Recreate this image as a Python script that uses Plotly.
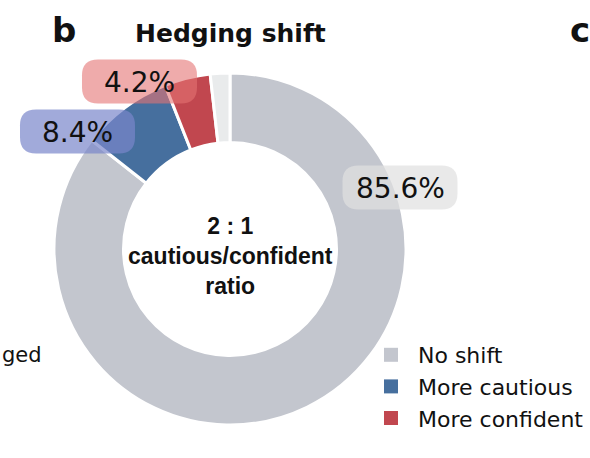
import plotly.graph_objects as go

# ---- data ----
categories = ["No shift", "More cautious", "More confident", "Other"]
shares = [85.6, 8.4, 4.2, 1.8]
legend_items = ["No shift", "More cautious", "More confident"]
ratio_text = "2 : 1"
title_text = "Hedging shift"

# ---- style ----
W, H = 590, 458
slice_colors = ["#c3c6ce", "#466f9e", "#c1474f", "#e9ebec"]
box_colors = ["rgba(224,224,224,0.72)", "rgba(121,134,203,0.7)", "rgba(229,115,115,0.6)"]
# label box centres (pixels) for the first three slices
label_pos = [(400, 187.5), (77.5, 131.5), (139.5, 81.5)]
box_w, box_h, box_r = 115, 44, 16

cx, cy, R = 230, 249, 176


def px(x):
    return x / W


def py(y):
    return 1 - y / H


def rounded_rect(xc, yc, w, h, r):
    x0, x1 = xc - w / 2, xc + w / 2
    y0, y1 = yc - h / 2, yc + h / 2
    pts = [
        ("M", [(x0 + r, y0)]),
        ("L", [(x1 - r, y0)]),
        ("Q", [(x1, y0), (x1, y0 + r)]),
        ("L", [(x1, y1 - r)]),
        ("Q", [(x1, y1), (x1 - r, y1)]),
        ("L", [(x0 + r, y1)]),
        ("Q", [(x0, y1), (x0, y1 - r)]),
        ("L", [(x0, y0 + r)]),
        ("Q", [(x0, y0), (x0 + r, y0)]),
    ]
    s = ""
    for cmd, p in pts:
        s += cmd + " " + " ".join(f"{px(a):.5f},{py(b):.5f}" for a, b in p) + " "
    return s + "Z"


fig = go.Figure()

fig.add_trace(go.Pie(
    labels=categories,
    values=shares,
    sort=False,
    direction="clockwise",
    rotation=0,
    hole=0.605,
    textinfo="none",
    marker=dict(colors=slice_colors, line=dict(color="white", width=3)),
    domain=dict(x=[px(cx - R), px(cx + R)], y=[py(cy + R), py(cy - R)]),
    showlegend=False,
    hoverinfo="label+percent",
))

for name in legend_items:
    fig.add_trace(go.Scatter(
        x=[None], y=[None], mode="markers", name=name,
        marker=dict(symbol="square", size=14,
                    color=slice_colors[categories.index(name)]),
    ))

shapes = []
annotations = []
for i in range(3):
    xc, yc = label_pos[i]
    shapes.append(dict(type="path", xref="paper", yref="paper", layer="above",
                       path=rounded_rect(xc, yc, box_w, box_h, box_r),
                       fillcolor=box_colors[i], line=dict(width=0)))
    annotations.append(dict(x=px(xc), y=py(yc + 1), xref="paper", yref="paper",
                            text=f"{shares[i]:.1f}%", showarrow=False,
                            xanchor="center", yanchor="middle",
                            font=dict(family="DejaVu Sans", size=28, color="#111")))

annotations += [
    dict(x=px(cx), y=py(256), xref="paper", yref="paper",
         text=f"<b>{ratio_text}</b><br><b>cautious/confident</b><br><b>ratio</b>",
         showarrow=False,
         xanchor="center", yanchor="middle", align="center",
         font=dict(family="Liberation Sans", size=23, color="#111"),
         ),
    dict(x=px(cx), y=py(33), xref="paper", yref="paper",
         text=f"<b>{title_text}</b>", showarrow=False,
         xanchor="center", yanchor="middle",
         font=dict(family="DejaVu Sans", size=25, color="#111")),
    dict(x=px(50), y=py(30), xref="paper", yref="paper",
         text="<b>b</b>", showarrow=False, xanchor="left", yanchor="middle",
         font=dict(family="DejaVu Sans", size=34, color="#111")),
    dict(x=px(568), y=py(30), xref="paper", yref="paper",
         text="<b>c</b>", showarrow=False, xanchor="left", yanchor="middle",
         font=dict(family="DejaVu Sans", size=34, color="#111")),
    dict(x=px(0), y=py(355), xref="paper", yref="paper",
         text="ged", showarrow=False, xanchor="left", yanchor="middle",
         font=dict(family="DejaVu Sans", size=21, color="#111")),
]

fig.update_layout(
    width=W, height=H, autosize=False,
    margin=dict(l=0, r=0, t=0, b=0),
    paper_bgcolor="white", plot_bgcolor="white",
    xaxis=dict(visible=False), yaxis=dict(visible=False),
    shapes=shapes, annotations=annotations,
    legend=dict(x=px(364), y=py(334), xanchor="left", yanchor="top",
                font=dict(family="DejaVu Sans", size=22, color="#111"),
                itemwidth=44, bgcolor="rgba(0,0,0,0)", tracegroupgap=0),
)

fig.write_html("out.html")
